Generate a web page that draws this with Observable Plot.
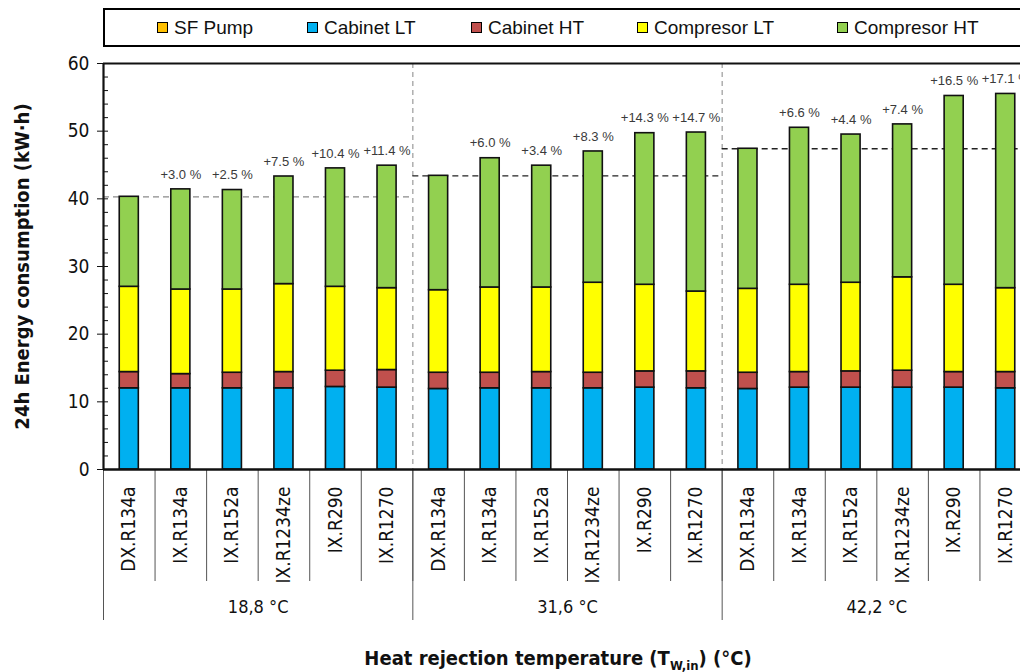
<!DOCTYPE html>
<html>
<head>
<meta charset="utf-8">
<script src="https://cdn.jsdelivr.net/npm/d3@7"></script>
<script src="https://cdn.jsdelivr.net/npm/@observablehq/plot@0.6"></script>
<style>
  html, body { margin: 0; padding: 0; background: #fff; overflow: hidden; width: 1020px; height: 672px; }
  #wrap { position: relative; width: 1020px; height: 672px; overflow: hidden; }
  #legend { position: absolute; left: 103px; top: 8px; width: 960px; height: 35px; border: 2px solid #000; background: #fff; z-index: 2; }
  .item { position: absolute; top: 0; height: 35px; display: flex; align-items: center; font-family: "Liberation Sans", Arial, sans-serif; font-size: 19px; color: #111; white-space: nowrap; }
  .sw { width: 9px; height: 9px; border: 1.5px solid #000; margin-right: 6px; }
  #xtitle { position: absolute; left: 258px; width: 600px; top: 645px; line-height: 26px; text-align: center; font-family: "DejaVu Sans Condensed", "DejaVu Sans", Arial, sans-serif; font-stretch: condensed; font-weight: bold; font-size: 20px; color: #111; z-index: 2; }
  #xtitle sub { font-size: 13px; vertical-align: -5px; line-height: 0; }
</style>
</head>
<body>
<div id="wrap">
  <div id="legend"></div>
  <div id="chart"></div>
  <div id="xtitle">Heat rejection temperature (T<sub>W,in</sub>) (°C)</div>
</div>
<script>
// ---- data ----
const groups = ["18,8 °C", "31,6 °C", "42,2 °C"];
const refrigerants = ["DX.R134a", "IX.R134a", "IX.R152a", "IX.R1234ze", "IX.R290", "IX.R1270"];
const series = ["SF Pump", "Cabinet LT", "Cabinet HT", "Compresor LT", "Compresor HT"];
const seriesColors = ["#FFC000", "#00B0F0", "#C0504D", "#FFFF00", "#92D050"];

// values per bar, 3 groups x 6 refrigerants (kW·h)
const sfPump      = [0, 0, 0, 0, 0, 0,   0, 0, 0, 0, 0, 0,   0, 0, 0, 0, 0, 0];
const cabinetLT   = [12.0, 12.0, 12.0, 12.0, 12.2, 12.1,   11.9, 12.0, 12.0, 12.0, 12.1, 12.0,   11.9, 12.1, 12.1, 12.1, 12.1, 12.0];
const cabinetHT   = [2.4, 2.1, 2.3, 2.4, 2.4, 2.6,   2.4, 2.3, 2.4, 2.3, 2.4, 2.5,   2.4, 2.3, 2.4, 2.5, 2.3, 2.4];
const compresorLT = [12.6, 12.5, 12.3, 13.0, 12.4, 12.1,   12.2, 12.6, 12.5, 13.3, 12.8, 11.8,   12.4, 12.9, 13.1, 13.8, 12.9, 12.4];
const compresorHT = [13.3, 14.8, 14.7, 15.9, 17.5, 18.1,   16.9, 19.1, 18.0, 19.4, 22.4, 23.5,   20.7, 23.2, 21.9, 22.6, 27.9, 28.7];
const increaseLabels = ["", "+3.0 %", "+2.5 %", "+7.5 %", "+10.4 %", "+11.4 %",
                        "", "+6.0 %", "+3.4 %", "+8.3 %", "+14.3 %", "+14.7 %",
                        "", "+6.6 %", "+4.4 %", "+7.4 %", "+16.5 %", "+17.1 %"];

const yTitle = "24h Energy consumption (kW·h)";

// ---- build table ----
const seriesValues = [sfPump, cabinetLT, cabinetHT, compresorLT, compresorHT];
const rows = [];
const totals = [];
for (let i = 0; i < 18; i++) {
  let acc = 0;
  seriesValues.forEach((vals, s) => {
    rows.push({i, series: series[s], y1: acc, y2: acc + vals[i]});
    acc += vals[i];
  });
  totals.push({i, total: acc, label: increaseLabels[i]});
}
const baselines = groups.map((g, k) => ({k, x1: k * 6, x2: k * 6 + 6, y: totals[k * 6].total}));

// ---- legend ----
const legendLeft = [52, 202, 366, 532, 732];
const legend = document.getElementById("legend");
series.forEach((s, k) => {
  const it = document.createElement("div");
  it.className = "item";
  it.style.left = legendLeft[k] + "px";
  it.innerHTML = `<span class="sw" style="background:${seriesColors[k]}"></span><span>${s}</span>`;
  legend.appendChild(it);
});

const narrow = "'DejaVu Sans Condensed', 'DejaVu Sans', Arial, sans-serif";

const chart = Plot.plot({
  width: 1020,
  height: 672,
  marginLeft: 103,
  marginTop: 63,
  marginBottom: 203,
  marginRight: 0,
  style: {fontFamily: "'Liberation Sans', Arial, sans-serif", background: "white", color: "#111"},
  x: {domain: [0, 18], range: [103, 1031], label: null},
  y: {domain: [0, 60], range: [469, 63], label: null},
  color: {domain: series, range: seriesColors},
  marks: [
    Plot.ruleX([6, 12], {stroke: "#9a9a9a", strokeDasharray: "5,4", strokeWidth: 1.2}),
    Plot.ruleY(baselines.filter(d => d.k === 0), {y: "y", x1: "x1", x2: "x2", stroke: "#8a8a8a", strokeDasharray: "6,4", strokeWidth: 1.2}),
    Plot.ruleY(baselines.filter(d => d.k > 0), {y: "y", x1: "x1", x2: "x2", stroke: "#222", strokeDasharray: "6,4", strokeWidth: 1.4}),
    Plot.rect(rows, {x1: d => d.i + 0.315, x2: d => d.i + 0.685, y1: "y1", y2: "y2", fill: "series", stroke: "#111", strokeWidth: 1.6}),
    Plot.text(totals.filter(d => d.label), {x: d => d.i + 0.5, y: "total", text: "label", dy: -15, fontSize: 13, fill: "#3a3a3a"}),
    // y axis: major + minor ticks
    Plot.axisY({ticks: d3.range(0, 61, 10), tickSize: 6, tickPadding: 8, fontSize: 19, fontFamily: narrow, label: null}),
    Plot.axisY({ticks: d3.range(0, 61, 2), tickSize: -5, tickFormat: () => "", label: null}),
    // x axis separators
    Plot.axisX({ticks: d3.range(0, 19), tickSize: 112, tickFormat: () => "", stroke: "#555", label: null}),
    Plot.axisX({ticks: [0, 6, 12, 18], tickSize: 151, tickFormat: () => "", stroke: "#555", label: null}),
    // category labels
    Plot.axisX({ticks: d3.range(18).map(i => i + 0.5), tickSize: 0, tickPadding: 17, tickRotate: -90,
      tickFormat: d => refrigerants[Math.floor(d) % 6], fontSize: 19, fontFamily: narrow, label: null}),
    // group labels
    Plot.axisX({ticks: [3, 9, 15], tickSize: 0, tickPadding: 131, tickFormat: d => groups[(d - 3) / 6],
      fontSize: 18, fontFamily: narrow, label: null}),
    // frame lines
    Plot.ruleX([0], {stroke: "#111", strokeWidth: 2.2}),
    Plot.ruleY([60], {stroke: "#111", strokeWidth: 2}),
    Plot.ruleY([0], {stroke: "#111", strokeWidth: 2.6}),
    // y title
    Plot.text([yTitle], {text: d => d, frameAnchor: "left", textAnchor: "middle", rotate: -90, dx: -81, fontSize: 20, fontWeight: "bold", fontFamily: narrow, fill: "#111"})
  ]
});
document.getElementById("chart").appendChild(chart);
</script>
</body>
</html>
